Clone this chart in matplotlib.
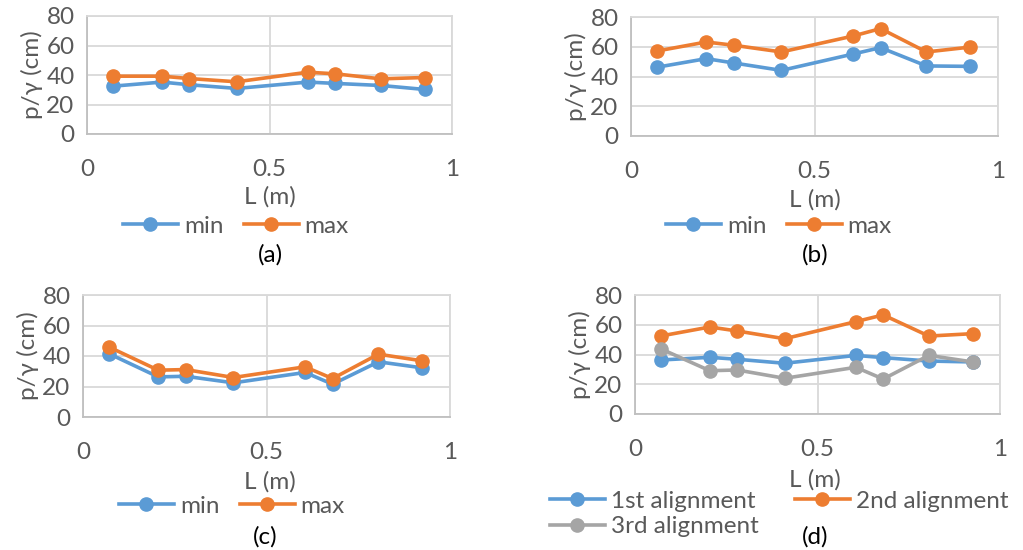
import numpy as np
import matplotlib
matplotlib.use("Agg")
import matplotlib.pyplot as plt

plt.rcParams['font.family'] = ['Lato', 'DejaVu Sans']

# positions along the pipe (m)
L = [0.07, 0.205, 0.28, 0.41, 0.605, 0.68, 0.805, 0.925]

# (a)
a_min = [32.4, 35.2, 33.4, 30.9, 35.2, 34.3, 32.9, 30.2]
a_max = [39.2, 39.2, 37.6, 35.4, 41.9, 40.8, 37.4, 38.3]
# (b)
b_min = [46.2, 52.0, 49.1, 44.1, 55.1, 59.4, 47.1, 46.8]
b_max = [57.1, 63.2, 61.0, 56.5, 67.2, 72.2, 56.5, 59.8]
# (c)
c_min = [41.6, 26.3, 26.7, 22.4, 29.2, 21.5, 36.2, 32.2]
c_max = [46.0, 30.7, 31.1, 25.9, 32.9, 25.2, 41.2, 36.8]
# (d)
d_1st = [36.3, 38.1, 36.8, 34.1, 39.4, 37.9, 35.6, 35.0]
d_2nd = [52.4, 58.5, 55.8, 50.6, 62.1, 66.6, 52.4, 54.0]
d_3rd = [43.9, 29.1, 29.6, 24.0, 31.4, 23.5, 39.4, 35.0]

BLUE = "#5B9BD5"
ORANGE = "#ED7D31"
GRAY = "#A5A5A5"
TXT = "#595959"
GRID = "#D9D9D9"
FS = 17.5

W, H = 1023, 550
fig = plt.figure(figsize=(W / 100, H / 100), dpi=100)


def px_rect(l, t, r, b):
    return [l / W, 1 - b / H, (r - l) / W, (b - t) / H]


def style(ax):
    ax.set_xlim(0, 1)
    ax.set_ylim(0, 80)
    ax.set_xticks([0, 0.5, 1])
    ax.set_xticklabels(["0", "0.5", "1"])
    ax.set_yticks([0, 20, 40, 60, 80])
    ax.grid(True, color=GRID, lw=1.3)
    ax.set_axisbelow(True)
    for s in ax.spines.values():
        s.set_color(GRID)
        s.set_linewidth(1.3)
    ax.spines['bottom'].set_color("#BFBFBF")
    ax.spines['left'].set_color("#BFBFBF")
    ax.tick_params(length=0, labelsize=FS, labelcolor=TXT)
    ax.tick_params(axis='x', pad=18)
    ax.tick_params(axis='y', pad=9)
    ax.set_ylabel("p/γ (cm)", fontsize=FS, color=TXT, labelpad=2)


def series(ax, y, color, label):
    return ax.plot(L, y, color=color, lw=2.6, marker='o', ms=9.5, label=label)[0]


def ftext(x, y, s, color=TXT):
    fig.text(x / W, 1 - y / H, s, fontsize=FS, color=color, ha='center', va='center')


leg_kw = dict(frameon=False, fontsize=FS, handlelength=2.25, handletextpad=0.25,
              labelcolor=TXT, borderaxespad=0, borderpad=0)

# (a)
ax = fig.add_axes(px_rect(87, 16, 452, 134))
style(ax)
h1 = series(ax, a_min, BLUE, "min")
h2 = series(ax, a_max, ORANGE, "max")
fig.legend([h1, h2], ["min", "max"], ncol=2, loc='center',
           bbox_to_anchor=(236 / W, 1 - 226 / H), columnspacing=0.85, **leg_kw)
ftext(270, 197, "L (m)")
ftext(270, 255, "(a)", color="black")

# (b)
ax = fig.add_axes(px_rect(631, 17, 998, 136))
style(ax)
h1 = series(ax, b_min, BLUE, "min")
h2 = series(ax, b_max, ORANGE, "max")
fig.legend([h1, h2], ["min", "max"], ncol=2, loc='center',
           bbox_to_anchor=(779 / W, 1 - 226 / H), columnspacing=0.85, **leg_kw)
ftext(815, 200, "L (m)")
ftext(815, 255, "(b)", color="black")

# (c)
ax = fig.add_axes(px_rect(83, 295, 450, 417))
style(ax)
h1 = series(ax, c_min, BLUE, "min")
h2 = series(ax, c_max, ORANGE, "max")
fig.legend([h1, h2], ["min", "max"], ncol=2, loc='center',
           bbox_to_anchor=(232 / W, 1 - 506 / H), columnspacing=0.85, **leg_kw)
ftext(270, 482, "L (m)")
ftext(265, 537, "(c)", color="black")

# (d)
ax = fig.add_axes(px_rect(635, 295, 1000, 414))
style(ax)
h1 = series(ax, d_1st, BLUE, "1st alignment")
h2 = series(ax, d_2nd, ORANGE, "2nd alignment")
h3 = series(ax, d_3rd, GRAY, "3rd alignment")
ftext(815, 480, "L (m)")
fig.legend([h1, h3, h2], ["1st alignment", "3rd alignment", "2nd alignment"],
           ncol=2, loc='center', bbox_to_anchor=(779 / W, 1 - 514 / H),
           columnspacing=1.5, labelspacing=0.2, **leg_kw)
ftext(815, 537, "(d)", color="black")

fig.savefig("out.png", dpi=100, facecolor="white")
